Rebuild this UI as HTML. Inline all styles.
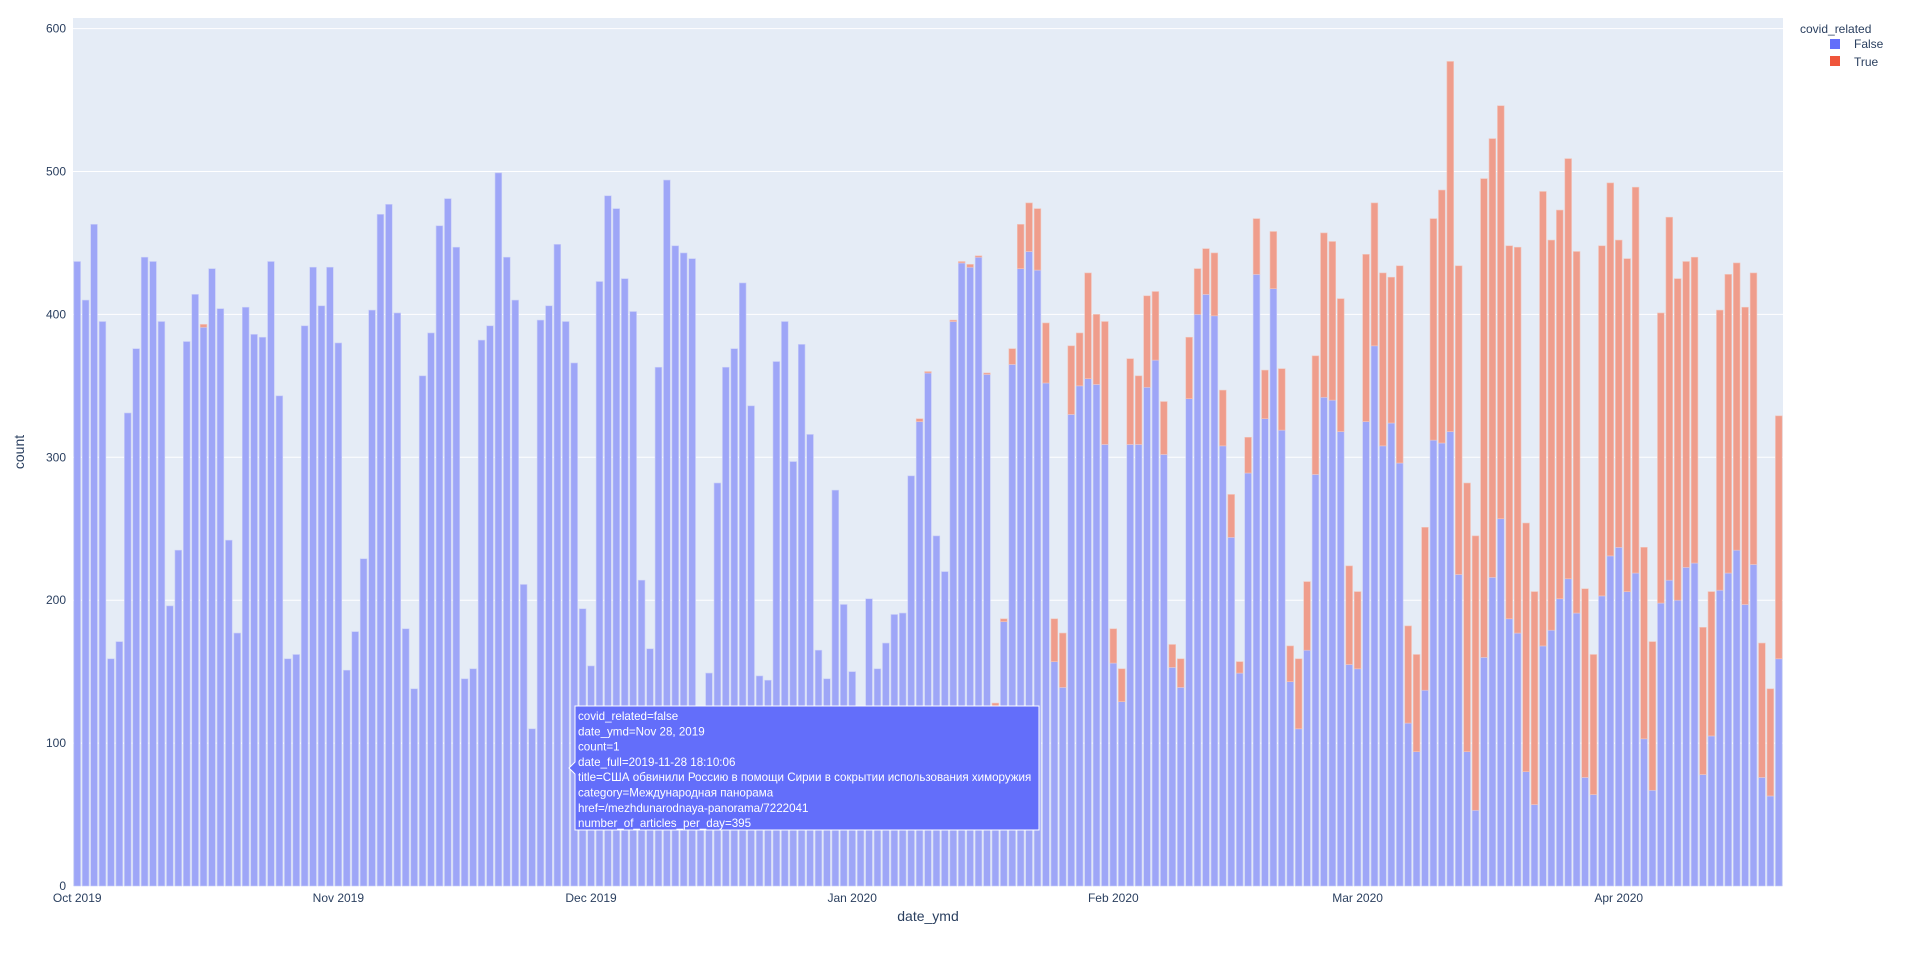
<!DOCTYPE html>
<html><head><meta charset="utf-8"><style>
html,body{margin:0;padding:0;background:#fff;width:1911px;height:956px;overflow:hidden}
svg text{font-family:"Liberation Sans","DejaVu Sans",sans-serif}
</style></head><body>
<svg id="chart" width="1911" height="956" xmlns="http://www.w3.org/2000/svg">
<rect x="73" y="18" width="1710" height="868" fill="#e5ecf6"/>
<g id="grid"></g><g id="bars"></g><g id="axes"></g>
<text transform="translate(24,452) rotate(-90)" text-anchor="middle" font-size="14" fill="#2a3f5f">count</text>
<text x="928" y="921" text-anchor="middle" font-size="14" fill="#2a3f5f">date_ymd</text>
<g>
<text x="1800" y="33" font-size="12" fill="#2a3f5f">covid_related</text>
<g><rect x="1830" y="39" width="10" height="10" fill="#636efa"/><text x="1854" y="48" font-size="12" fill="#2a3f5f">False</text></g>
<g><rect x="1830" y="56" width="10" height="10" fill="#ef553b"/><text x="1854" y="66" font-size="12" fill="#2a3f5f">True</text></g>
</g>
<g id="tooltip">
<path d="M575,706 H1039 V830 H575 V774 L569,768 L575,762 Z" fill="#636efa" stroke="#fff" stroke-width="1"/>
<text font-size="11.6" fill="#fff">
<tspan x="578" y="720">covid_related=false</tspan>
<tspan x="578" y="735.3">date_ymd=Nov 28, 2019</tspan>
<tspan x="578" y="750.6">count=1</tspan>
<tspan x="578" y="765.9">date_full=2019-11-28 18:10:06</tspan>
<tspan x="578" y="781.2">title=США обвинили Россию в помощи Сирии в сокрытии использования химоружия</tspan>
<tspan x="578" y="796.5">category=Международная панорама</tspan>
<tspan x="578" y="811.8">href=/mezhdunarodnaya-panorama/7222041</tspan>
<tspan x="578" y="827.1">number_of_articles_per_day=395</tspan>
</text>
</g>
</svg>
<script>
const startDate = "2019-10-01";
const falseCounts = [437,410,463,395,159,171,331,376,440,437,395,196,235,381,414,391,432,404,242,177,405,386,384,437,343,159,162,392,433,406,433,380,151,178,229,403,470,477,401,
180,138,357,387,462,481,447,145,152,382,392,499,440,410,211,110,396,406,449,395,366,194,154,423,483,474,425,402,214,166,363,494,448,443,439,
100,149,282,363,376,422,336,147,144,367,395,297,379,316,165,145,277,197,150,110,201,152,170,190,191,287,
325,359,245,220,395,436,433,440,358,126,185,365,432,444,431,352,157,
139,330,350,355,351,309,156,129,309,309,349,368,302,153,139,341,400,414,399,308,244,149,289,428,327,418,319,143,110,165,288,342,340,318,155,152,325,378,308,324,296,114,94,
137,312,310,318,218,94,53,160,216,257,187,177,80,57,168,179,201,215,191,76,64,203,231,237,206,219,103,67,198,214,200,223,226,78,105,207,219,235,197,225,76,63,159];
const trueCounts = [0,0,0,0,0,0,0,0,0,0,0,0,0,0,0,2,0,0,0,0,0,0,0,0,0,0,0,0,0,0,0,0,0,0,0,0,0,0,0,
0,0,0,0,0,0,0,0,0,0,0,0,0,0,0,0,0,0,0,0,0,0,0,0,0,0,0,0,0,0,0,0,0,0,0,
0,0,0,0,0,0,0,0,0,0,0,0,0,0,0,0,0,0,0,0,0,0,0,0,0,0,
2,1,0,0,1,1,2,1,1,2,2,11,31,34,43,42,30,
38,48,37,74,49,86,24,23,60,48,64,48,37,16,20,43,32,32,44,39,30,8,25,39,34,40,43,25,49,48,83,115,111,93,69,54,117,100,121,102,138,68,68,
114,155,177,259,216,188,192,335,307,289,261,270,174,149,318,273,272,294,253,132,98,245,261,215,233,270,134,104,203,254,225,214,214,103,101,196,209,201,208,204,94,75,170];
const yTicks = [0,100,200,300,400,500,600];
const xTickLabels = ["Oct 2019","Nov 2019","Dec 2019","Jan 2020","Feb 2020","Mar 2020","Apr 2020"];
const xTickDates = ["2019-10-01","2019-11-01","2019-12-01","2020-01-01","2020-02-01","2020-03-01","2020-04-01"];

const NS="http://www.w3.org/2000/svg";
const L=73,R=1783,T=18,B=886,YMAX=607.4;
const DAY=86400000, t0=Date.parse(startDate+"T00:00:00Z");
const n=falseCounts.length;
const xs=d=>L+(d+0.5)*(R-L)/n;
const xDate=s=>xs((Date.parse(s+"T00:00:00Z")-t0)/DAY);
const ys=v=>B-v*(B-T)/YMAX;
function mk(tag,attrs,parent){const e=document.createElementNS(NS,tag);for(const k in attrs)e.setAttribute(k,attrs[k]);parent.appendChild(e);return e;}
const grid=document.getElementById('grid'),bars=document.getElementById('bars'),axes=document.getElementById('axes');
yTicks.forEach(v=>{
  if(v>0){const g=mk('line',{x1:L,x2:R,y1:ys(v),y2:ys(v),stroke:'#fff','stroke-width':1},grid);
  
  }
  const t=mk('text',{x:L-7,y:ys(v)+4,'text-anchor':'end','font-size':12,fill:'#2a3f5f'},axes);
  t.textContent=v;
  
  
});
xTickLabels.forEach((lab,i)=>{
  const t=mk('text',{x:xDate(xTickDates[i]),y:902,'text-anchor':'middle','font-size':12,fill:'#2a3f5f'},axes);
  t.textContent=lab;
  
  
});
const bw=(R-L)/n*0.8;
for(let i=0;i<n;i++){
  const cx=xs(i),f=falseCounts[i],tr=trueCounts[i];
  const b1=mk('rect',{x:cx-bw/2,y:ys(f),width:bw,height:ys(0)-ys(f),fill:'#9ea6f7',stroke:'#c9cef8','stroke-width':0.6},bars);
  
  
  if(tr>0){
    const b2=mk('rect',{x:cx-bw/2,y:ys(f+tr),width:bw,height:ys(f)-ys(f+tr),fill:'#ef9d8c',stroke:'#f2c6bd','stroke-width':0.6},bars);
    
    
  }
}
</script>
</body></html>
